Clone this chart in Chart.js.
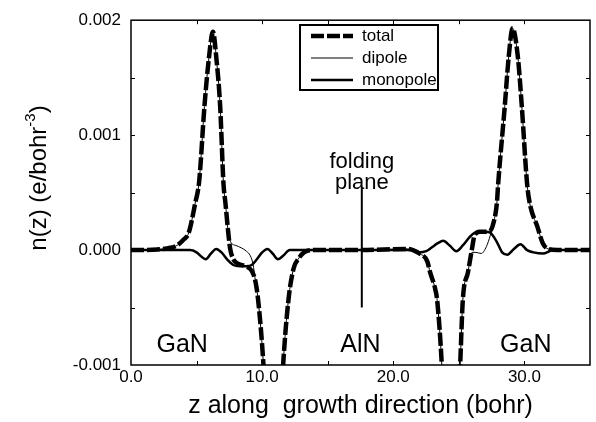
<!DOCTYPE html>
<html lang="en">
<head>
  <meta charset="UTF-8">
  <title>Charge density n(z)</title>
  <style>
    body { margin: 0; background: #fff; }
    #wrap { position: relative; width: 596px; height: 422px; }
  </style>
</head>
<body>
  <div id="wrap"><canvas id="chart" width="596" height="422"></canvas></div>

  <script src="https://cdn.jsdelivr.net/npm/chart.js"></script>
  <script>
    // [z (bohr), n (e/bohr^3)]
    const totalPts = [
      [0, 0], [1, 0], [2, 0.000005], [3, 0.00002], [3.5, 0.00004], [4, 0.00009], [4.4, 0.00015],
      [4.9, 0.00041], [5.2, 0.0006], [5.6, 0.00125], [5.95, 0.00168], [6.25, 0.0019], [6.5, 0.00168],
      [6.8, 0.00125], [7.05, 0.00058], [7.2, 0.00041], [7.4, 0.00017], [7.55, 0.00002], [7.8, -0.00008],
      [8.2, -0.00012], [8.7, -0.00014], [9.2, -0.00018], [9.5, -0.00028], [9.7, -0.00044], [10.1, -0.001],
      [10.4, -0.0017], [10.85, -0.003], [11.25, -0.0018], [11.6, -0.001], [12.0, -0.00044], [12.4, -0.00016],
      [12.8, -0.00007], [13.2, -0.00002], [14, 0], [17.6, 0], [21, 0.00001], [21.5, 0], [22, -0.00003],
      [22.6, -0.0001], [22.8, -0.00019], [23.2, -0.00034], [23.35, -0.00044], [23.7, -0.001], [24, -0.0018],
      [24.4, -0.003], [24.8, -0.0018], [25.1, -0.001], [25.3, -0.00044], [25.7, -0.00019], [26.0, 0.00001],
      [26.2, 0.00013], [26.6, 0.00016], [27.0, 0.00016], [27.4, 0.00017], [27.6, 0.00022], [27.9, 0.00041],
      [28.0, 0.00058], [28.5, 0.00125], [28.8, 0.00168], [29.1, 0.00193], [29.5, 0.00168], [29.8, 0.00125],
      [30.2, 0.00058], [30.4, 0.00041], [31.0, 0.0002], [31.4, 0.00006], [31.8, 0.00001], [32.5, 0], [35, 0]
    ];
    const dipolePts = [
      [0, 0], [1, 0], [2, 0.000005], [3, 0.00002], [3.5, 0.00004], [4, 0.00009], [4.4, 0.00015],
      [4.9, 0.00041], [5.2, 0.0006], [5.6, 0.00125], [5.95, 0.00168], [6.25, 0.0019], [6.5, 0.00168],
      [6.8, 0.00125], [7.05, 0.00058], [7.2, 0.00041], [7.4, 0.00017], [7.6, 0.00007], [8.0, 0.00004],
      [8.4, 0.00002], [8.8, -0.00001], [9.1, -0.00005], [9.3, -0.00012], [9.5, -0.00028], [9.7, -0.00044],
      [10.1, -0.001], [10.4, -0.0017], [10.85, -0.003], [11.25, -0.0018], [11.6, -0.001], [12.0, -0.00044],
      [12.4, -0.00016], [12.8, -0.00007], [13.2, -0.00002], [14, 0], [17.6, 0], [21, 0.00001], [21.5, 0],
      [22, -0.00003], [22.6, -0.0001], [22.8, -0.00019], [23.2, -0.00034], [23.35, -0.00044], [23.7, -0.001],
      [24, -0.0018], [24.4, -0.003], [24.8, -0.0018], [25.1, -0.001], [25.3, -0.00044], [25.7, -0.00019],
      [26.0, -0.00002], [26.3, -0.00002], [26.7, -0.00003], [27.1, 0.00003], [27.4, 0.00013], [27.6, 0.00022],
      [27.9, 0.00041], [28.0, 0.00058], [28.5, 0.00125], [28.8, 0.00168], [29.1, 0.00193], [29.5, 0.00168],
      [29.8, 0.00125], [30.2, 0.00058], [30.4, 0.00041], [31.0, 0.0002], [31.4, 0.00006], [31.8, 0.00001],
      [32.5, 0], [35, 0]
    ];
    const monopolePts = [
      [0, 0], [3.5, 0], [4.5, 0], [5.0, -0.00002], [5.4, -0.00006], [5.7, -0.00008], [6.1, -0.00003],
      [6.5, 0.00001], [6.9, -0.00002], [7.4, -0.00009], [7.8, -0.00013], [8.3, -0.00014], [8.8, -0.00014],
      [9.2, -0.00013], [9.6, -0.00008], [10.0, -0.00002], [10.4, 0.00001], [10.8, -0.00003], [11.2, -0.00008],
      [11.6, -0.00005], [12.1, 0], [13, 0], [21.5, 0], [22.0, -0.00002], [22.5, -0.00001], [22.9, 0.00002],
      [23.4, 0.00006], [23.8, 0.00008], [24.3, 0.00004], [24.8, -0.00001], [25.3, 0.00004], [25.8, 0.00011],
      [26.2, 0.00015], [27.0, 0.00016], [27.4, 0.00015], [27.9, 0.00007], [28.3, -0.00002], [28.7, -0.00004],
      [29.2, 0.00001], [29.7, 0.00005], [30.2, 0], [30.7, -0.00002], [31.4, -0.00003], [32.2, 0], [35, 0]
    ];
    const foldPts = [[17.6, -0.0005], [17.6, 0.00055]];

    const xTickVals = [0, 10, 20, 30];
    const yTickVals = [-0.001, 0, 0.001, 0.002];
    const xMarkVals = [5, 10, 15, 20, 25, 30];
    const yMarkVals = [-0.0005, 0, 0.0005, 0.001, 0.0015];

    const notes = [
      { text: 'GaN', z: 3.9, n: -0.00083, size: 25 },
      { text: 'AlN', z: 17.5, n: -0.00083, size: 25 },
      { text: 'GaN', z: 30.1, n: -0.00083, size: 25 },
      { text: 'folding', z: 17.6, n: 0.00077, size: 22 },
      { text: 'plane', z: 17.6, n: 0.00058, size: 22 }
    ];

    const FONT = '"Liberation Sans", Arial, Helvetica, sans-serif';
    const toXY = pts => pts.map(p => ({ x: p[0], y: p[1] }));

    const decor = {
      id: 'decor',
      afterDraw(chart) {
        const { ctx, chartArea: a } = chart;
        const x = chart.scales.x, y = chart.scales.y;
        ctx.save();
        ctx.strokeStyle = '#000';
        ctx.fillStyle = '#000';

        // frame + inward ticks
        ctx.lineWidth = 1.5;
        ctx.strokeRect(a.left, a.top, a.right - a.left, a.bottom - a.top);
        ctx.beginPath();
        xMarkVals.forEach(v => {
          const px = Math.round(x.getPixelForValue(v)) + 0.5;
          ctx.moveTo(px, a.bottom); ctx.lineTo(px, a.bottom - 4);
          ctx.moveTo(px, a.top); ctx.lineTo(px, a.top + 4);
        });
        yMarkVals.forEach(v => {
          const py = Math.round(y.getPixelForValue(v)) + 0.5;
          ctx.moveTo(a.left, py); ctx.lineTo(a.left + 4, py);
          ctx.moveTo(a.right, py); ctx.lineTo(a.right - 4, py);
        });
        ctx.lineWidth = 1;
        ctx.stroke();

        // text notes inside the plot
        ctx.textAlign = 'center';
        ctx.textBaseline = 'middle';
        notes.forEach(n => {
          ctx.font = n.size + 'px ' + FONT;
          ctx.fillText(n.text, x.getPixelForValue(n.z), y.getPixelForValue(n.n));
        });

        // legend
        const lx = 300, ly = 25, lw = 138, lh = 65;
        ctx.fillStyle = '#fff';
        ctx.fillRect(lx, ly, lw, lh);
        ctx.lineWidth = 2;
        ctx.strokeRect(lx, ly, lw, lh);
        ctx.fillStyle = '#000';
        ctx.font = '17px ' + FONT;
        ctx.textAlign = 'left';
        chart.data.datasets.slice(0, 3).forEach((ds, i) => {
          const ry = ly + 11 + i * 22;
          ctx.save();
          ctx.lineWidth = ds.borderWidth;
          ctx.setLineDash(ds.borderDash || []);
          ctx.beginPath();
          ctx.moveTo(lx + 11, ry);
          ctx.lineTo(lx + 53, ry);
          ctx.stroke();
          ctx.restore();
          ctx.fillText(ds.label, lx + 62, ry);
        });

        // axis titles
        ctx.font = '25px ' + FONT;
        ctx.textAlign = 'center';
        ctx.textBaseline = 'alphabetic';
        ctx.fillText('z along  growth direction (bohr)', (a.left + a.right) / 2, 413);

        ctx.translate(38, 178);
        ctx.rotate(-Math.PI / 2);
        const main = 'n(z) (e/bohr', sup = '-3', tail = ')';
        ctx.font = '24px ' + FONT;
        const w1 = ctx.measureText(main).width, w3 = ctx.measureText(tail).width;
        ctx.font = '15px ' + FONT;
        const w2 = ctx.measureText(sup).width;
        let cx = -(w1 + w2 + w3) / 2;
        ctx.textAlign = 'left';
        ctx.font = '24px ' + FONT;
        ctx.fillText(main, cx, 8);
        cx += w1;
        ctx.font = '15px ' + FONT;
        ctx.fillText(sup, cx, -3);
        cx += w2;
        ctx.font = '24px ' + FONT;
        ctx.fillText(tail, cx, 8);
        ctx.restore();
      }
    };

    const lineBase = {
      pointRadius: 0,
      borderColor: '#000',
      fill: false,
      cubicInterpolationMode: 'monotone',
      clip: 0
    };

    new Chart(document.getElementById('chart'), {
      type: 'line',
      data: {
        datasets: [
          { ...lineBase, label: 'total', data: toXY(totalPts), borderWidth: 4.5, borderDash: [13, 3] },
          { ...lineBase, label: 'dipole', data: toXY(dipolePts), borderWidth: 1 },
          { ...lineBase, label: 'monopole', data: toXY(monopolePts), borderWidth: 2.5 },
          { ...lineBase, label: 'fold', data: toXY(foldPts), borderWidth: 2, cubicInterpolationMode: 'default', tension: 0 }
        ]
      },
      options: {
        responsive: false,
        animation: false,
        devicePixelRatio: 1,
        layout: { padding: { left: 0, right: 6, top: 12, bottom: 0 } },
        plugins: { legend: { display: false }, tooltip: { enabled: false } },
        scales: {
          x: {
            type: 'linear',
            min: 0,
            max: 35,
            grid: { display: false, drawTicks: false },
            border: { display: false },
            afterFit: s => { s.height = 57; },
            afterBuildTicks: s => { s.ticks = xTickVals.map(v => ({ value: v })); },
            ticks: {
              padding: 2,
              color: '#000',
              font: { family: FONT, size: 17 },
              maxRotation: 0,
              callback: v => v.toFixed(1)
            }
          },
          y: {
            min: -0.001,
            max: 0.002,
            grid: { display: false, drawTicks: false },
            border: { display: false },
            afterFit: s => { s.width = 131; },
            afterBuildTicks: s => { s.ticks = yTickVals.map(v => ({ value: v })); },
            ticks: {
              padding: 10,
              color: '#000',
              font: { family: FONT, size: 17 },
              callback: v => v.toFixed(3)
            }
          }
        }
      },
      plugins: [decor]
    });
  </script>
</body>
</html>
